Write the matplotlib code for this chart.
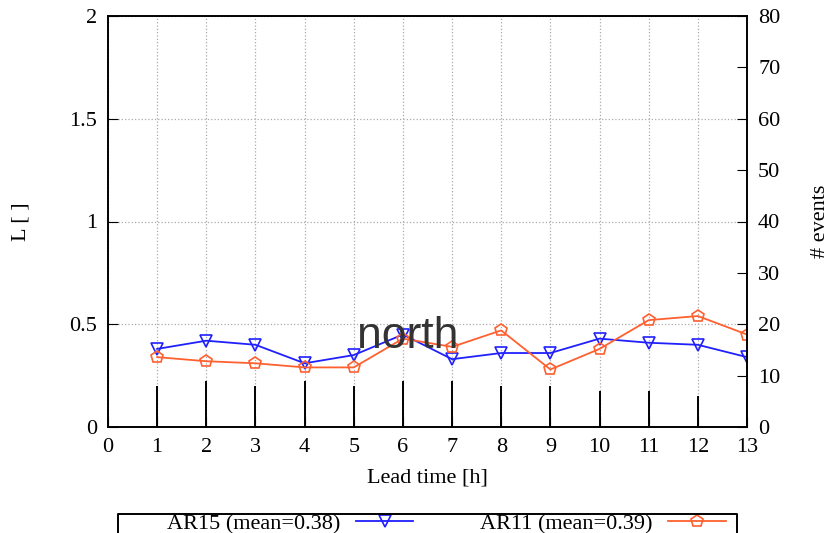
import numpy as np
import matplotlib
matplotlib.use("Agg")
import matplotlib.pyplot as plt
from matplotlib.lines import Line2D

# lead times and scores
lead = [1, 2, 3, 4, 5, 6, 7, 8, 9, 10, 11, 12, 13]
ar15 = [0.38, 0.42, 0.40, 0.31, 0.35, 0.45, 0.33, 0.36, 0.36, 0.43, 0.41, 0.40, 0.34]
ar11 = [0.34, 0.32, 0.31, 0.29, 0.29, 0.43, 0.39, 0.47, 0.28, 0.38, 0.52, 0.54, 0.45]
n_events = [8, 9, 8, 9, 8, 9, 9, 8, 8, 7, 7, 6, 6]

plt.rcParams['font.family'] = ['Liberation Serif', 'DejaVu Serif']

fig = plt.figure(figsize=(8.35, 5.33), dpi=100)
ax = fig.add_axes([108/835, 1-427/533, 639/835, 411/533])
ax2 = ax.twinx()

ax.plot(lead, ar15, color='#2020ff', marker='v', markersize=8, markerfacecolor='none',
        markeredgewidth=1.2, linewidth=1.3, label='AR15 (mean=0.38)')
ax.plot(lead, ar11, color='#ff6030', marker='p', markersize=9, markerfacecolor='none',
        markeredgewidth=1.2, linewidth=1.3, label='AR11 (mean=0.39)')

ax.set_xlim(0, 13)
ax.set_ylim(0, 2)
ax.set_xticks(range(0, 14))
ax.set_yticks([0, 0.5, 1, 1.5, 2])
ax.set_yticklabels(['0', '0.5', '1', '1.5', '2'])
ax.tick_params(axis='both', direction='in', length=7, labelsize=16, pad=8)
ax.grid(True, linestyle=':', color='#aaaaaa', linewidth=0.9)
ax.set_ylabel('L [ ]', fontsize=16, labelpad=28)
ax.set_xlabel('Lead time [h]', fontsize=16, labelpad=8)

# event counts as impulses on the right axis
ax2.vlines(lead, 0, n_events, colors='black', linewidth=1.4)
ax2.set_ylim(0, 80)
ax2.set_yticks(np.arange(0, 81, 10))
ax2.tick_params(axis='y', direction='in', length=7, labelsize=16, pad=8)
ax2.set_ylabel('# events', fontsize=16, labelpad=22)

for a in (ax, ax2):
    for s in a.spines.values():
        s.set_linewidth(1.2)

ax2.text(6.1, 17.6, 'north', fontsize=32, color='#333333', ha='center', va='center',
         family=['Liberation Sans', 'DejaVu Sans'], zorder=5)

# gnuplot-style key: text then sample, boxed, running off the bottom edge
fig.legend(loc='center right', bbox_to_anchor=(726/835, 1-524/533),
           ncol=2, markerfirst=False, fontsize=16, frameon=False,
           handlelength=2.6, handletextpad=0.7, columnspacing=3.0,
           borderpad=0, borderaxespad=0)
kx0, kx1, ktop = 118/835, 737/835, 1 - 513.5/533
fig.add_artist(Line2D([kx0, kx0, kx1, kx1], [-0.05, ktop, ktop, -0.05],
                      transform=fig.transFigure, color='black', linewidth=1.4, zorder=20))

fig.savefig('out.png', dpi=100)
